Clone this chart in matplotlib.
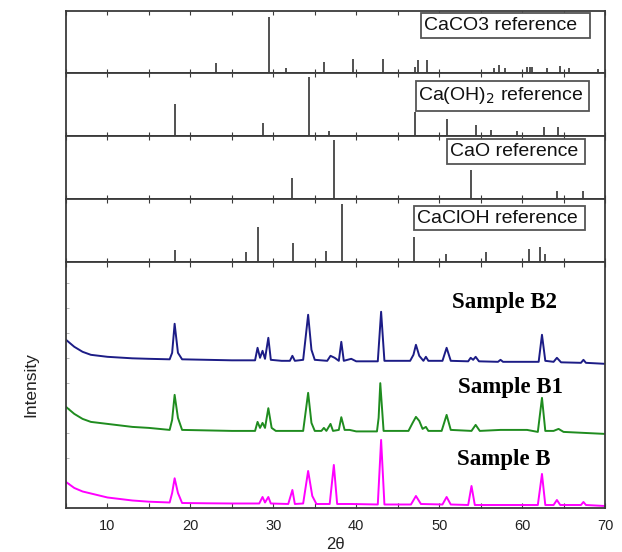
import matplotlib.pyplot as plt
from matplotlib.patches import Rectangle
from matplotlib.ticker import MultipleLocator

# reference stick patterns (2theta, relative intensity)
caco3_pos = [23.1, 29.5, 31.5, 36.1, 39.6, 43.2, 47.1, 47.5, 48.5, 56.6, 57.2, 58.0,
             60.6, 60.9, 61.2, 63.0, 64.6, 65.7, 69.2]
caco3_int = [18, 100, 9, 20, 24, 24, 11, 22, 22, 9, 14, 9, 10, 10, 10, 9, 12, 9, 6]

caoh2_pos = [18.1, 28.8, 34.3, 36.7, 47.1, 51.0, 54.5, 56.2, 59.4, 62.7, 64.3]
caoh2_int = [55, 22, 100, 8, 41, 29, 18, 10, 9, 16, 15]

cao_pos = [32.3, 37.3, 53.9, 64.2, 67.3]
cao_int = [37, 100, 49, 14, 14]

cacloh_pos = [18.1, 26.7, 28.2, 32.4, 36.3, 38.3, 47.0, 50.8, 55.7, 60.8, 62.2, 62.8]
cacloh_int = [20, 16, 60, 32, 19, 100, 43, 14, 16, 22, 25, 13]

tt_b2 = [5.0, 6, 7, 8, 10, 13, 15, 17.5, 17.8, 18.1, 18.5, 19, 22, 25, 27.8, 28.1, 28.4,
         28.7, 29.0, 29.4, 29.7, 31, 32.0, 32.3, 32.6, 33.6, 34.2, 34.6, 35, 36.5, 36.9,
         37.4, 37.9, 38.2, 38.5, 39.4, 40, 42.6, 43.0, 43.4, 46.5, 46.9, 47.2, 47.6, 48.1,
         48.4, 48.7, 50.4, 50.9, 51.4, 53.5, 53.8, 54.1, 54.4, 54.8, 57.1, 57.4, 57.7,
         62.0, 62.4, 62.8, 63.8, 64.2, 64.7, 67.1, 67.4, 67.7, 70]
int_b2 = [168, 161, 156, 153, 151, 149.5, 149, 148.5, 155, 184, 155, 148.5, 148, 147.5,
          147.5, 160, 150, 157, 149, 170, 148, 147, 147, 152, 147, 148, 193, 158, 148, 147,
          152, 150, 147, 166, 147, 149, 146.5, 146.5, 196, 147, 147, 153, 163, 152, 147,
          151, 147, 147, 160, 147, 146.5, 150, 148, 151, 146.5, 146, 148, 146, 146, 173,
          147, 146, 150, 145.5, 145, 148, 145, 144]

tt_b1 = [5.0, 6, 7, 8, 10, 13, 15, 17.5, 17.8, 18.1, 18.5, 19, 22, 25, 27.8, 28.1, 28.4,
         28.7, 29.0, 29.4, 29.8, 30.3, 33.6, 34.2, 34.6, 35.0, 35.8, 36.1, 36.4, 36.9, 37.2,
         37.9, 38.2, 38.6, 39.2, 40, 42.5, 42.7, 42.9, 43.3, 46.3, 46.8, 47.2, 47.6, 48.0,
         48.4, 48.7, 50.3, 50.9, 51.4, 53.9, 54.4, 54.9, 57.4, 60.6, 61.9, 62.4, 62.8, 63.8,
         64.4, 65.0, 70]
int_b1 = [101, 94, 89, 86, 84, 81, 80, 78, 88, 113, 90, 78, 77.5, 77, 77, 86, 80, 85, 80,
          99.7, 80, 77, 77, 115, 85, 77, 77, 80, 77, 84, 77, 78, 90.7, 78, 78, 76.5, 76.5,
          90, 124.7, 77, 77, 85, 91, 87, 79, 81, 77, 77, 93, 78, 77, 83, 77, 78, 78, 76,
          110, 77, 77, 79, 76, 74]

tt_b = [5.0, 6, 7, 8, 10, 13, 15, 17.5, 17.8, 18.1, 18.5, 19, 22, 25, 28.3, 28.7, 29.0,
        29.4, 29.7, 31.8, 32.3, 32.6, 33.6, 34.2, 34.7, 35.2, 36.8, 37.3, 37.7, 39.4,
        42.6, 43.0, 43.4, 46.6, 47.2, 47.8, 50.4, 50.9, 51.4, 53.5, 53.9, 54.3, 61.9,
        62.4, 62.8, 63.8, 64.2, 64.6, 67.1, 67.4, 67.7, 70]
int_b = [26, 20, 16.5, 14.5, 10.5, 7.5, 6.3, 5.5, 15, 29.7, 15, 5, 4.7, 4.5, 4.5, 11, 5.5,
         11, 4.5, 4, 18, 4, 4.5, 37, 12, 4, 4, 43, 4, 4, 3.5, 68, 3.5, 3.5, 12, 4, 3.5, 11,
         3.5, 3, 22, 3, 3, 34, 3, 3, 8, 3, 3, 6, 3, 2]

W, H = 622, 552
fig = plt.figure(figsize=(W / 100, H / 100), dpi=100)
plt.rcParams['font.family'] = ['Liberation Sans', 'DejaVu Sans']

left = 66 / W
width = (605 - 66) / W
edge = '#3a3a3a'


def px_axes(top, bottom):
    return fig.add_axes([left, 1 - bottom / H, width, (bottom - top) / H])


def style(ax):
    for s in ax.spines.values():
        s.set_color(edge)
        s.set_linewidth(1.3)
    ax.set_xlim(5, 70)
    ax.xaxis.set_major_locator(MultipleLocator(5))
    ax.tick_params(direction='in', length=3, width=0.8, colors=edge,
                   top=True, labelbottom=False, labelleft=False)
    ax.set_yticks([])


# panel top/bottom in px, sticks, y-limit, label, label box (x0, x1 in 2theta; y0, y1 axes frac)
refs = [
    (10.7, 72.7, caco3_pos, caco3_int, 111, 'CaCO3 reference', (47.85, 68.2, 0.555, 0.958)),
    (72.7, 136, caoh2_pos, caoh2_int, 107.5, 'Ca(OH)$_2$ reference', (47.15, 68.1, 0.395, 0.87)),
    (136, 199.3, cao_pos, cao_int, 107.5, 'CaO reference', (51.0, 67.6, 0.56, 0.96)),
    (199.3, 261.7, cacloh_pos, cacloh_int, 107.5, 'CaClOH reference', (47.0, 67.6, 0.50, 0.90)),
]
for top, bottom, pos, inten, ytop, label, (x0, x1, y0, y1) in refs:
    ax = px_axes(top, bottom)
    style(ax)
    ax.set_ylim(0, ytop)
    ax.vlines(pos, 0, inten, color='#333333', linewidth=1.2)
    tr = ax.get_xaxis_transform()
    ax.add_patch(Rectangle((x0, y0), x1 - x0, y1 - y0, transform=tr, facecolor='white',
                           edgecolor='#555555', linewidth=1.3, zorder=3))
    ax.text(x0 + 0.3, (y0 + y1) / 2, label, transform=tr, fontsize=14,
            ha='left', va='center', color='#111111', zorder=4)

ax = px_axes(261.7, 508)
for s in ax.spines.values():
    s.set_color(edge)
    s.set_linewidth(1.3)
ax.set_xlim(5, 70)
ax.set_ylim(0, 246)
ax.plot(tt_b2, int_b2, color='#1c1c86', linewidth=1.4)
ax.plot(tt_b1, int_b1, color='#1f8c1f', linewidth=1.4)
ax.plot(tt_b, int_b, color='#ff00ff', linewidth=1.4)
ax.xaxis.set_major_locator(MultipleLocator(10))
ax.xaxis.set_minor_locator(MultipleLocator(5))
ax.yaxis.set_major_locator(MultipleLocator(25))
ax.tick_params(axis='x', which='both', direction='in', length=3.5, width=0.8,
               colors=edge, top=True, pad=8, labelcolor='#222222', labelsize=10.5)
ax.tick_params(axis='y', direction='in', length=2, width=0.6, colors='#aaaaaa',
               labelleft=False)

serif = dict(family=['Liberation Serif', 'DejaVu Serif'], fontweight='bold', fontsize=16.5)
ax.text(51.6, 205, 'Sample B2', ha='left', va='center', **serif)
ax.text(52.3, 120, 'Sample B1', ha='left', va='center', **serif)
ax.text(52.2, 48, 'Sample B', ha='left', va='center', **serif)

ax.set_xlabel('2θ', fontsize=12, labelpad=3, color='#222222')
ax.set_ylabel('Intensity', fontsize=12.5, labelpad=20, color='#222222')

fig.savefig('out.png', dpi=100)
